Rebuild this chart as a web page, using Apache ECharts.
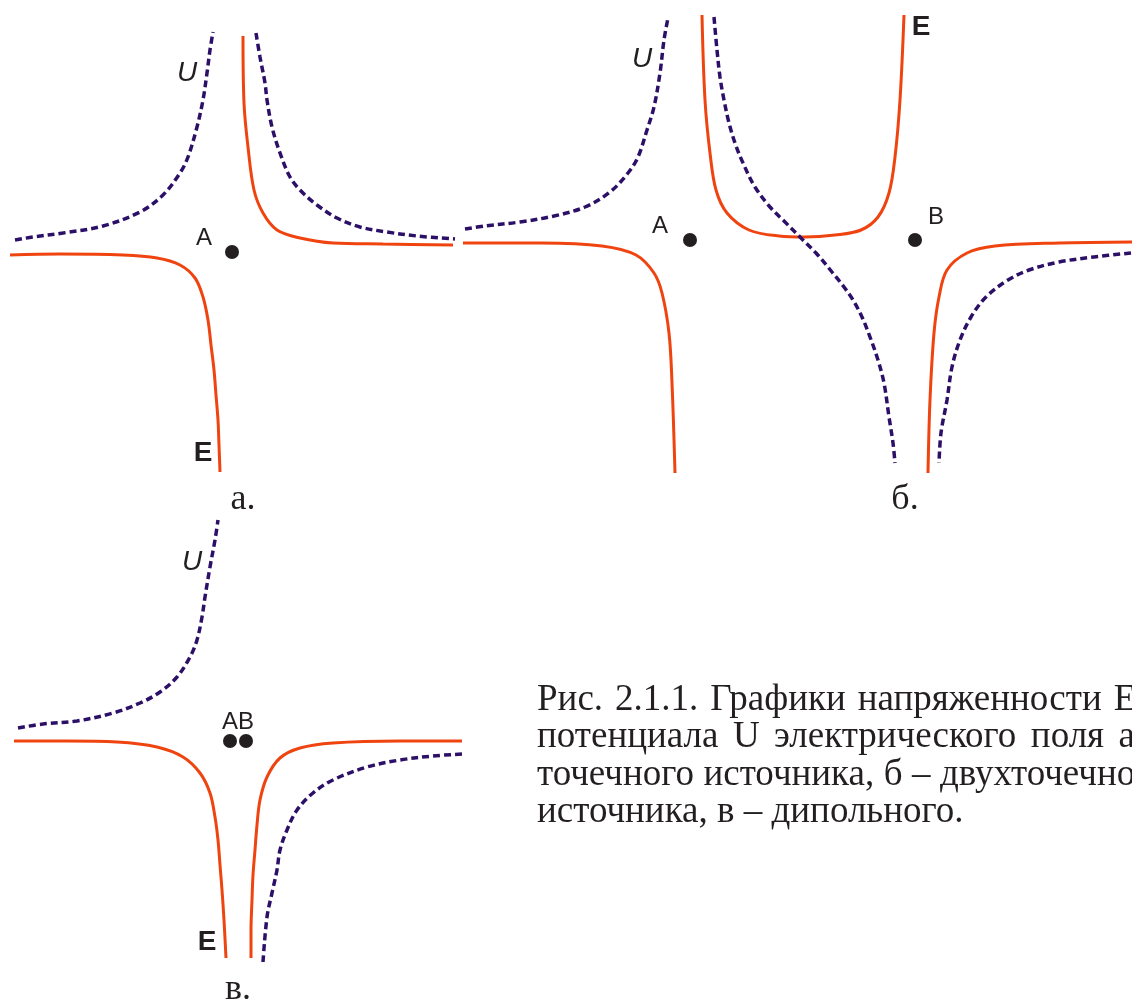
<!DOCTYPE html>
<html>
<head>
<meta charset="utf-8">
<script src="https://cdn.jsdelivr.net/npm/echarts@6/dist/echarts.min.js"></script>
<style>
  html, body { margin: 0; padding: 0; background: #fff; }
  #chart { width: 1132px; height: 1001px; }
</style>
</head>
<body>
<div id="chart"></div>
<script>
// Field curves on a page-sized coordinate plane (x to the right, y downward).

// а — single point source A
const aPotLeft  = [[15,240],[33,237],[63,233],[103,226],[140,212],[163,195],[180,173],[188,157],[197,127],[203,100],[207,73],[210,50],[213,32]];
const aPotRight = [[256,33],[260,57],[265,83],[267,100],[272,127],[280,153],[290,177],[300,190],[317,205],[337,218],[360,227],[387,232],[417,236],[455,239]];
const aFieldRight = [[243,36],[244,103],[248,147],[254,190],[263,213],[277,230],[300,238],[333,243],[383,244],[453,245]];
const aFieldLeft  = [[10,255],[60,254],[123,255],[157,258],[180,265],[195,278],[203,297],[208,320],[211,345],[214,370],[216,395],[218,420],[219,445],[220,472]];
const aSources = [[232,252]];

// б — two point sources A and B
const bPotLeft   = [[465,229],[485,226],[520,222],[554,216],[585,207],[610,192],[628,173],[638,157],[647,130],[654,107],[660,73],[664,40],[668,18]];
const bPotMiddle = [[714,17],[717,50],[720,77],[724,100],[729,123],[735,143],[743,163],[755,187],[770,207],[785,222],[800,237],[816,253],[832,272],[844,287],[853,300],[862,317],[870,337],[878,360],[884,383],[889,417],[893,443],[895,463]];
const bPotRight  = [[1131,253],[1094,257],[1059,262],[1029,270],[1008,280],[986,297],[971,317],[960,340],[952,367],[947,400],[941,433],[939,463]];
const bFieldLeft  = [[463,243],[541,243],[602,246],[636,255],[654,273],[662,293],[669,333],[672,383],[675,473]];
const bFieldMiddle = [[702,15],[705,100],[710,153],[716,190],[727,213],[749,230],[779,236],[805,237],[835,235],[861,230],[878,217],[889,193],[895,157],[900,100],[904,15]];
const bFieldRight = [[1132,242],[1059,243],[995,246],[967,253],[947,270],[939,297],[934,333],[930,400],[928,473]];
const bSources = [[690,240],[915,240]];

// в — dipole AB
const cPotLeft  = [[18,728],[43,724],[77,721],[113,713],[140,703],[160,692],[177,677],[190,657],[197,640],[202,617],[205,597],[210,567],[215,540],[218,520]];
const cPotRight = [[462,754],[433,756],[400,760],[367,767],[333,780],[313,793],[297,810],[287,830],[280,850],[277,870],[272,893],[267,917],[263,962]];
const cFieldLeft  = [[14,741],[67,741],[117,742],[157,747],[183,757],[200,773],[210,793],[215,817],[218,840],[220,865],[222,890],[224,920],[226,958]];
const cFieldRight = [[462,741],[400,741],[333,743],[300,748],[280,758],[267,777],[260,800],[257,825],[255,850],[253,875],[252,900],[251,930],[251,958]];
const cSources = [[230,741],[246,741]];

// Caption lines (justified except the last)
const captionLines = [
  ['Рис.', '2.1.1.', 'Графики', 'напряженности', 'Е', 'и'],
  ['потенциала', 'U', 'электрического', 'поля', 'а', '–'],
  ['точечного', 'источника,', 'б', '–', 'двухточечного'],
  ['источника,', 'в', '–', 'дипольного.']
];

const FIELD_COLOR = '#ef4410';
const POT_COLOR = '#2c1068';

const fieldCurves = [aFieldRight, aFieldLeft, bFieldLeft, bFieldMiddle, bFieldRight, cFieldLeft, cFieldRight];
const potCurves = [aPotLeft, aPotRight, bPotLeft, bPotMiddle, bPotRight, cPotLeft, cPotRight];

const series = [];
fieldCurves.forEach(function (d) {
  series.push({
    type: 'line', data: d, smooth: 0.35, showSymbol: false, silent: true,
    lineStyle: { color: FIELD_COLOR, width: 3 }
  });
});
potCurves.forEach(function (d) {
  series.push({
    type: 'line', data: d, smooth: 0.35, showSymbol: false, silent: true,
    lineStyle: { color: POT_COLOR, width: 3.5, type: [7, 4] }
  });
});
series.push({
  type: 'scatter', data: aSources.concat(bSources, cSources), symbolSize: 14, silent: true,
  itemStyle: { color: '#231f20', opacity: 1 }
});

// Panel annotations
const sans = '"Liberation Sans", Arial, sans-serif';
const serif = '"Liberation Serif", "Times New Roman", serif';
function txt(x, y, s, font, align) {
  return { type: 'text', x: x, y: y, silent: true,
    style: { text: s, font: font, fill: '#231f20', textAlign: align || 'center', textVerticalAlign: 'middle' } };
}
const graphics = [
  txt(187, 73, 'U', 'italic 28px ' + sans),
  txt(204, 238, 'A', '24px ' + sans),
  txt(203, 453, 'E', 'bold 28px ' + sans),
  txt(243, 500, 'а.', '36px ' + serif),
  txt(642, 59, 'U', 'italic 28px ' + sans),
  txt(660, 226, 'A', '24px ' + sans),
  txt(936, 217, 'B', '24px ' + sans),
  txt(921, 27, 'E', 'bold 28px ' + sans),
  txt(905, 500, 'б.', '36px ' + serif),
  txt(192, 562, 'U', 'italic 28px ' + sans),
  txt(238, 722, 'AB', '24px ' + sans),
  txt(207, 942, 'E', 'bold 28px ' + sans),
  txt(238, 990, 'в.', '36px ' + serif)
];

// Justified caption
const capFont = '37px ' + serif;
const ctx = document.createElement('canvas').getContext('2d');
ctx.font = capFont;
const capLeft = 537, capRight = 1168, capTop = 700, capStep = 37.5;
captionLines.forEach(function (words, i) {
  const widths = words.map(function (w) { return ctx.measureText(w).width; });
  const total = widths.reduce(function (s, v) { return s + v; }, 0);
  const last = i === captionLines.length - 1;
  const gap = last ? ctx.measureText(' ').width : (capRight - capLeft - total) / (words.length - 1);
  let x = capLeft;
  words.forEach(function (w, k) {
    graphics.push(txt(x, capTop + i * capStep, w, capFont, 'left'));
    x += widths[k] + gap;
  });
});

const chart = echarts.init(document.getElementById('chart'), null, { renderer: 'canvas' });
chart.setOption({
  animation: false,
  backgroundColor: '#ffffff',
  grid: { left: 0, right: 0, top: 0, bottom: 0 },
  xAxis: { type: 'value', min: 0, max: 1132, show: false },
  yAxis: { type: 'value', min: 0, max: 1001, inverse: true, show: false },
  series: series,
  graphic: graphics
});
</script>
</body>
</html>
